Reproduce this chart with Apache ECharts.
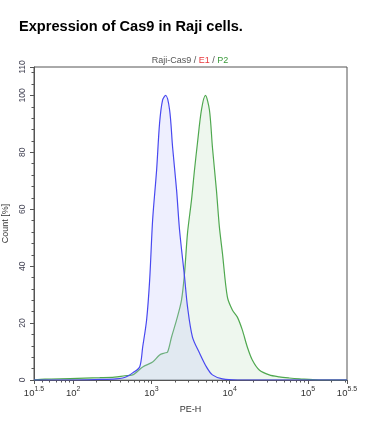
<!DOCTYPE html>
<html><head><meta charset="utf-8">
<script src="https://cdn.jsdelivr.net/npm/echarts@6/dist/echarts.min.js"></script>
<style>html,body{margin:0;padding:0;background:#fff}#c{width:373px;height:429px}</style>
</head><body><div id="c"></div>
<script>
// x values are log10(PE-H)
var blueX = [1.5, 2.0, 2.34, 2.55, 2.634, 2.70, 2.761, 2.85, 2.889, 2.939, 2.978, 3.016, 3.067, 3.105, 3.143, 3.182, 3.233, 3.271, 3.322, 3.36, 3.424, 3.462, 3.525, 3.615, 3.704, 3.78, 3.908, 4.1, 5.5];
var blueY = [0, 0, 0.2, 0.4, 0.7, 1.4, 2.5, 4.6, 11.6, 21.1, 35.1, 56.2, 73.8, 90.3, 98.4, 100, 94.9, 81.9, 66.8, 52.7, 36.2, 25.7, 15.1, 9.5, 4.6, 1.8, 0.4, 0, 0];
var greenX = [1.5, 1.64, 1.96, 2.34, 2.53, 2.66, 2.761, 2.889, 3.016, 3.105, 3.169, 3.207, 3.258, 3.322, 3.385, 3.424, 3.462, 3.513, 3.551, 3.589, 3.64, 3.691, 3.742, 3.78, 3.831, 3.869, 3.908, 3.971, 4.035, 4.099, 4.162, 4.226, 4.29, 4.379, 4.506, 4.634, 4.76, 4.89, 5.14, 5.5];
var greenY = [0, 0.3, 0.5, 0.8, 1.0, 1.5, 1.8, 4.6, 6.3, 8.8, 9.5, 9.8, 15.1, 21.1, 28.1, 37.6, 51.7, 63.3, 73.8, 83.3, 94.9, 100, 94.9, 81.9, 66.8, 53.8, 44.6, 29.2, 24.6, 22.1, 17.6, 11.6, 7.0, 3.5, 1.8, 1.1, 0.7, 0.4, 0, 0];
var xMajorTicks = [1.5, 2, 3, 4, 5, 5.5];
var xMajorLabels = ['1.5', '2', '3', '4', '5', '5.5'];
var yMajorTicks = [0, 20, 40, 60, 80, 100, 110];
var titleText = 'Expression of Cas9 in Raji cells.';

function zip(a, b) { return a.map(function (v, i) { return [v, b[i]]; }); }
var xMinor = [];
for (var d = 1; d <= 5; d++) for (var k = 2; k <= 9; k++) {
  var v = d + Math.log10(k);
  if (v > 1.5 && v < 5.5) xMinor.push(v);
}
var yMinor = [];
for (var t = 4; t < 110; t += 4) if (t % 20 !== 0) yMinor.push(t);

var font = 'Liberation Sans, Arial, sans-serif';
var axisCol = '#555';
var chart = echarts.init(document.getElementById('c'));
chart.setOption({
  animation: false,
  backgroundColor: '#fff',
  title: {
    text: titleText, left: 19, top: 19, padding: 0,
    textStyle: { fontFamily: font, fontSize: 14.6, fontWeight: 'bold', color: '#000' }
  },
  graphic: [{
    type: 'text', x: 190, y: 56,
    style: {
      text: '{a|Raji-Cas9 / }{b|E1}{a| / }{c|P2}', align: 'center', font: '9px ' + font,
      rich: { a: { fill: '#555', fontSize: 9, fontFamily: font }, b: { fill: '#e8383d', fontSize: 9, fontFamily: font }, c: { fill: '#3a9a3a', fontSize: 9, fontFamily: font } }
    }
  }],
  grid: { left: 34, right: 26, top: 67, bottom: 49, show: true, borderColor: axisCol, borderWidth: 1, containLabel: false, outerBoundsMode: 'none' },
  xAxis: [{
    type: 'value', min: 1.5, max: 5.5, position: 'bottom',
    name: 'PE-H', nameLocation: 'middle', nameGap: 25,
    nameTextStyle: { fontFamily: font, fontSize: 9, color: '#333' },
    splitLine: { show: false },
    axisLine: { lineStyle: { color: axisCol } },
    axisTick: { customValues: xMajorTicks, length: 4, lineStyle: { color: axisCol } },
    axisLabel: {
      customValues: xMajorTicks, margin: 6,
      formatter: function (v) { var i = xMajorTicks.indexOf(v); return '{b|10}{s|' + (i >= 0 ? xMajorLabels[i] : v) + '}'; },
      rich: { b: { fontFamily: font, fontSize: 9.5, color: '#333', verticalAlign: 'bottom' }, s: { fontFamily: font, fontSize: 7, color: '#333', verticalAlign: 'top', padding: [0, 0, 5, 0] } }
    }
  }, {
    type: 'value', min: 1.5, max: 5.5, position: 'bottom',
    splitLine: { show: false }, axisLine: { show: false },
    axisTick: { customValues: xMinor, length: 2.5, lineStyle: { color: axisCol } },
    axisLabel: { show: false }
  }],
  yAxis: [{
    type: 'value', min: 0, max: 110,
    name: 'Count [%]', nameLocation: 'middle', nameGap: 22, nameRotate: 90,
    nameTextStyle: { fontFamily: font, fontSize: 9, color: '#333' },
    splitLine: { show: false },
    axisLine: { show: true, lineStyle: { color: axisCol } },
    axisTick: { show: true, customValues: yMajorTicks, length: 4, lineStyle: { color: axisCol } },
    axisLabel: { customValues: yMajorTicks, rotate: 90, margin: 7, fontFamily: font, fontSize: 8.5, color: '#445' }
  }, {
    type: 'value', min: 0, max: 110, position: 'left',
    splitLine: { show: false }, axisLine: { show: false },
    axisTick: { show: true, customValues: yMinor, length: 2.5, lineStyle: { color: axisCol } },
    axisLabel: { show: false }
  }],
  series: [{
    type: 'line', name: 'P2', data: zip(greenX, greenY), smooth: 0.3, showSymbol: false,
    lineStyle: { color: '#4fa84f', width: 1.2 },
    areaStyle: { color: 'rgba(190,225,190,0.38)' }, z: 2
  }, {
    type: 'line', name: 'E1', data: zip(blueX, blueY), smooth: 0.3, showSymbol: false,
    lineStyle: { color: '#4848f0', width: 1.2 },
    areaStyle: { color: 'rgba(190,195,250,0.38)' }, z: 3
  }]
});
</script></body></html>
